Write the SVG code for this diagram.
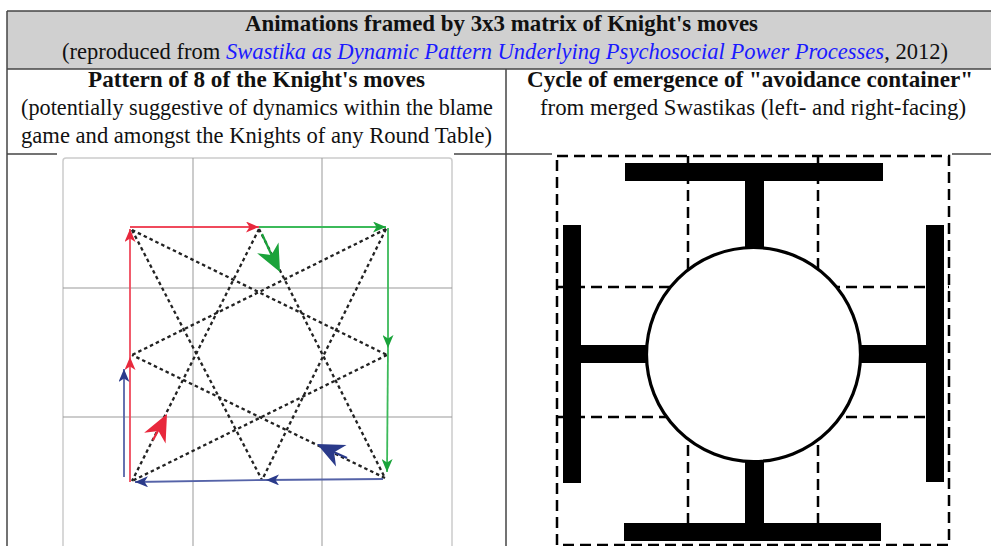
<svg xmlns="http://www.w3.org/2000/svg" width="991" height="546" viewBox="0 0 991 546">
<defs>
<style>
.t{font-family:"Liberation Serif","Times New Roman",serif;font-size:22.5px;fill:#111;text-anchor:start}
.b{font-weight:bold}
.lnk{fill:#1a1aff;font-style:italic;font-family:"Liberation Serif","DejaVu Serif",serif}
.bd{stroke:#444;stroke-width:1.5;fill:none}
.grid{stroke:#999;stroke-width:1;fill:none}
.dot{stroke:#222;stroke-width:2.3;stroke-dasharray:3.5 3;fill:none}
.dash{stroke:#000;stroke-width:2.5;stroke-dasharray:11 6;fill:none}
.red{stroke:#f04a5c;stroke-width:1.8;fill:none}
.grn{stroke:#3cba5a;stroke-width:1.8;fill:none}
.blu{stroke:#5563a8;stroke-width:1.8;fill:none}
</style>
<marker id="mr" viewBox="0 0 13 11" refX="13" refY="5.5" markerWidth="13" markerHeight="11" markerUnits="userSpaceOnUse" orient="auto"><path d="M0,0 L13,5.5 L0,11 L3.5,5.5 Z" fill="#e8283c"/></marker>
<marker id="mg" viewBox="0 0 13 11" refX="13" refY="5.5" markerWidth="13" markerHeight="11" markerUnits="userSpaceOnUse" orient="auto"><path d="M0,0 L13,5.5 L0,11 L3.5,5.5 Z" fill="#1aa33a"/></marker>
<marker id="mb" viewBox="0 0 13 11" refX="13" refY="5.5" markerWidth="13" markerHeight="11" markerUnits="userSpaceOnUse" orient="auto"><path d="M0,0 L13,5.5 L0,11 L3.5,5.5 Z" fill="#2a3a8a"/></marker>
<path id="big" d="M0,0 L-27,-12 L-19,0 L-27,12 Z"/>
</defs>
<rect width="991" height="546" fill="#fff"/>

<g id="table">
<rect x="7" y="11" width="990" height="58" fill="#d0d0d0"/>
<line class="bd" x1="7" y1="11" x2="991" y2="11"/>
<line class="bd" x1="7" y1="69" x2="991" y2="69"/>
<line class="bd" x1="7" y1="154" x2="991" y2="154"/>
<line class="bd" x1="7" y1="11" x2="7" y2="546"/>
<line class="bd" x1="506" y1="69" x2="506" y2="546"/>
</g>

<g id="header">
<text class="t b" x="245" y="31" textLength="513" lengthAdjust="spacingAndGlyphs">Animations framed by 3x3 matrix of Knight's moves</text>
<text class="t" x="62" y="59" textLength="886" lengthAdjust="spacingAndGlyphs">(reproduced from <tspan class="lnk">Swastika as Dynamic Pattern Underlying Psychosocial Power Processes</tspan>, 2012)</text>
</g>

<g id="col-left-header">
<text class="t b" x="88" y="87" textLength="337" lengthAdjust="spacingAndGlyphs">Pattern of 8 of the Knight's moves</text>
<text class="t" x="21" y="115" textLength="472" lengthAdjust="spacingAndGlyphs">(potentially suggestive of dynamics within the blame</text>
<text class="t" x="21" y="143" textLength="471" lengthAdjust="spacingAndGlyphs">game and amongst the Knights of any Round Table)</text>
</g>

<g id="col-right-header">
<text class="t b" x="527" y="87" textLength="446" lengthAdjust="spacingAndGlyphs">Cycle of emergence of "avoidance container"</text>
<text class="t" x="540" y="115" textLength="426" lengthAdjust="spacingAndGlyphs">from merged Swastikas (left- and right-facing)</text>
</g>

<g id="knight-panel">
<rect x="57" y="151" width="397" height="395" fill="#fff"/>
<rect x="63" y="158" width="389" height="400" rx="3" fill="#fff" stroke="#ccc" stroke-width="1.5"/>
<g class="grid">
<line x1="193" y1="158" x2="193" y2="546"/>
<line x1="322" y1="158" x2="322" y2="546"/>
<line x1="63" y1="288" x2="452" y2="288"/>
<line x1="63" y1="417" x2="452" y2="417"/>
</g>
</g>

<g id="connectors">
<g class="dot">
<line x1="132" y1="230" x2="387" y2="355"/>
<line x1="132" y1="230" x2="262" y2="480"/>
<line x1="259" y1="229" x2="132" y2="481"/>
<line x1="259" y1="229" x2="385" y2="478"/>
<line x1="386" y1="229" x2="132" y2="355"/>
<line x1="386" y1="229" x2="262" y2="480"/>
<line x1="387" y1="355" x2="132" y2="481"/>
<line x1="385" y1="478" x2="132" y2="355"/>
</g>
<line class="red" x1="130" y1="482" x2="130" y2="357" marker-end="url(#mr)"/>
<line class="red" x1="130" y1="357" x2="130" y2="229" marker-end="url(#mr)"/>
<line class="red" x1="130" y1="227" x2="259" y2="227" marker-end="url(#mr)"/>
<line class="grn" x1="259" y1="227" x2="386" y2="227" marker-end="url(#mg)"/>
<line class="grn" x1="388" y1="228" x2="388" y2="348" marker-end="url(#mg)"/>
<line class="grn" x1="388" y1="348" x2="387" y2="472" marker-end="url(#mg)"/>
<line class="blu" x1="383" y1="479" x2="266" y2="480" marker-end="url(#mb)"/>
<line class="blu" x1="266" y1="480" x2="135" y2="482" marker-end="url(#mb)"/>
<line class="blu" x1="124" y1="477" x2="124" y2="369" marker-end="url(#mb)"/>
<line x1="262" y1="234" x2="272" y2="256" stroke="#1aa33a" stroke-width="2.2"/>
<use href="#big" transform="translate(280,272) rotate(63.2)" fill="#1aa33a"/>
<line x1="153" y1="440" x2="162" y2="423" stroke="#e8283c" stroke-width="2.2"/>
<use href="#big" transform="translate(167,414) rotate(-63.3)" fill="#e8283c"/>
<line x1="347" y1="458" x2="327" y2="449" stroke="#2a3a8a" stroke-width="2.2"/>
<use href="#big" transform="translate(317,444) rotate(205.9)" fill="#2a3a8a"/>
</g>

<g id="container-panel">
<rect x="552" y="151" width="400" height="395" fill="#fff"/>
<rect class="dash" x="557" y="156" width="392" height="389"/>
<line class="dash" x1="688" y1="156" x2="688" y2="545"/>
<line class="dash" x1="818" y1="156" x2="818" y2="545"/>
<line class="dash" x1="557" y1="287" x2="949" y2="287"/>
<line class="dash" x1="557" y1="417" x2="949" y2="417"/>
</g>

<g id="avoidance-container">
<rect x="745" y="175" width="19" height="75" fill="#000"/>
<rect x="745" y="458" width="19" height="70" fill="#000"/>
<rect x="575" y="345" width="75" height="18" fill="#000"/>
<rect x="857" y="345" width="75" height="18" fill="#000"/>
<circle cx="753.5" cy="354.5" r="107" fill="#fff" stroke="#000" stroke-width="3.2"/>
<rect x="625" y="163" width="258" height="18" fill="#000"/>
<rect x="624" y="523" width="257" height="18" fill="#000"/>
<rect x="563" y="225" width="18" height="258" fill="#000"/>
<rect x="926" y="225" width="18" height="257" fill="#000"/>
</g>
</svg>
